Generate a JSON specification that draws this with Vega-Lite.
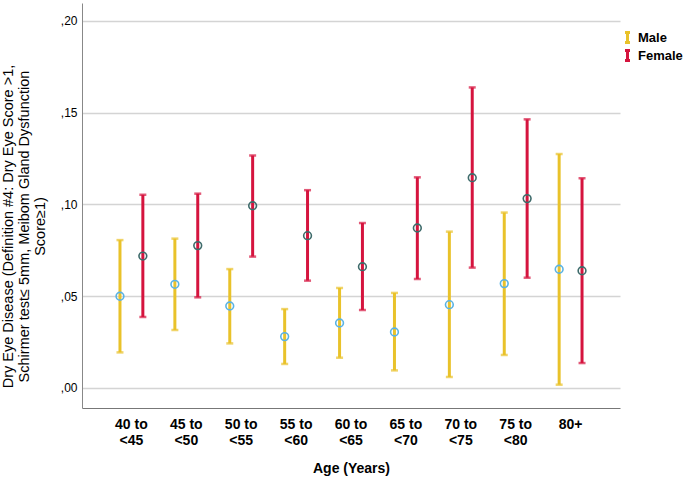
{
  "$schema": "https://vega.github.io/schema/vega-lite/v6.json",
  "autosize": {"type": "none"},
  "padding": {"left": 82, "top": 3, "right": 65, "bottom": 74},
  "width": 538,
  "height": 405,
  "background": "white",
  "config": {
    "font": "Liberation Sans",
    "view": {"stroke": null}
  },
  "data": {
    "values": [
      {"age": "40 to <45", "sex": "Male", "mean": 0.0500, "lo": 0.0194, "hi": 0.0806},
      {"age": "40 to <45", "sex": "Female", "mean": 0.0719, "lo": 0.0387, "hi": 0.1053},
      {"age": "45 to <50", "sex": "Male", "mean": 0.0565, "lo": 0.0316, "hi": 0.0814},
      {"age": "45 to <50", "sex": "Female", "mean": 0.0776, "lo": 0.0494, "hi": 0.1059},
      {"age": "50 to <55", "sex": "Male", "mean": 0.0447, "lo": 0.0243, "hi": 0.0648},
      {"age": "50 to <55", "sex": "Female", "mean": 0.0993, "lo": 0.0716, "hi": 0.1267},
      {"age": "55 to <60", "sex": "Male", "mean": 0.0280, "lo": 0.0131, "hi": 0.0430},
      {"age": "55 to <60", "sex": "Female", "mean": 0.0830, "lo": 0.0585, "hi": 0.1078},
      {"age": "60 to <65", "sex": "Male", "mean": 0.0354, "lo": 0.0165, "hi": 0.0545},
      {"age": "60 to <65", "sex": "Female", "mean": 0.0661, "lo": 0.0425, "hi": 0.0899},
      {"age": "65 to <70", "sex": "Male", "mean": 0.0305, "lo": 0.0096, "hi": 0.0518},
      {"age": "65 to <70", "sex": "Female", "mean": 0.0872, "lo": 0.0594, "hi": 0.1148},
      {"age": "70 to <75", "sex": "Male", "mean": 0.0454, "lo": 0.0060, "hi": 0.0852},
      {"age": "70 to <75", "sex": "Female", "mean": 0.1146, "lo": 0.0656, "hi": 0.1638},
      {"age": "75 to <80", "sex": "Male", "mean": 0.0569, "lo": 0.0180, "hi": 0.0956},
      {"age": "75 to <80", "sex": "Female", "mean": 0.1032, "lo": 0.0601, "hi": 0.1464},
      {"age": "80+", "sex": "Male", "mean": 0.0647, "lo": 0.0018, "hi": 0.1275},
      {"age": "80+", "sex": "Female", "mean": 0.0639, "lo": 0.0136, "hi": 0.1143}
    ]
  },
  "encoding": {
    "x": {
      "field": "age",
      "type": "nominal",
      "sort": null,
      "scale": {"paddingInner": 0, "paddingOuter": 0.4},
      "axis": {
        "title": "Age (Years)",
        "titleFont": "Liberation Sans",
        "titleFontSize": 14,
        "titleFontWeight": "bold",
        "titleColor": "#000",
        "titlePadding": 14,
        "labelAngle": 0,
        "labelFont": "Liberation Sans",
        "labelFontSize": 14,
        "labelFontWeight": "bold",
        "labelColor": "#000",
        "labelLineHeight": 16,
        "labelPadding": 9,
        "labelExpr": "split(replace(datum.label, ' <', '\\n<'), '\\n')",
        "ticks": false,
        "domainColor": "#777",
        "domainWidth": 1,
        "grid": false
      }
    },
    "xOffset": {
      "field": "sex",
      "type": "nominal",
      "sort": ["Male", "Female"],
      "scale": {"paddingInner": 0, "paddingOuter": 0.2}
    }
  },
  "layer": [
    {
      "mark": {"type": "rule", "strokeWidth": 3},
      "encoding": {
        "y": {
          "field": "lo",
          "type": "quantitative",
          "scale": {"domain": [-0.0109, 0.2098], "nice": false, "zero": false},
          "axis": {
            "title": ["Dry Eye Disease (Definition #4: Dry Eye Score >1,", "Schirmer test≤ 5mm, Meibom Gland Dysfunction", "Score≥1)"],
            "titleFont": "Liberation Sans",
            "titleFontSize": 14.5,
            "titleFontWeight": "normal",
            "titleColor": "#000",
            "titleLineHeight": 16,
            "titleAngle": -90,
            "titleBaseline": "top",
            "titleAlign": "center",
            "titleX": -81,
            "titleY": 223,
            "values": [0, 0.05, 0.1, 0.15, 0.2],
            "labelExpr": "replace(format(datum.value, '.2f'), '0.', ',')",
            "labelFont": "Liberation Sans",
            "labelFontSize": 12,
            "labelColor": "#000",
            "labelPadding": 5,
            "ticks": false,
            "domainColor": "#888",
            "domainWidth": 1,
            "gridColor": "#d4d4d4",
            "gridWidth": 1.3
          }
        },
        "y2": {"field": "hi"},
        "color": {
          "field": "sex",
          "type": "nominal",
          "sort": ["Male", "Female"],
          "scale": {"domain": ["Male", "Female"], "range": ["#E9C22A", "#D5143E"]},
          "legend": {
            "title": null,
            "orient": "none",
            "legendX": 539,
            "legendY": 28,
            "symbolType": "M0,-1V1M-0.5,-1H0.5M-0.5,1H0.5",
            "symbolStrokeWidth": 3,
            "symbolSize": 100,
            "symbolFillColor": "transparent",
            "labelFont": "Liberation Sans",
            "labelFontSize": 13,
            "labelFontWeight": "bold",
            "labelColor": "#000",
            "rowPadding": -5,
            "labelOffset": 4
          }
        }
      }
    },
    {
      "mark": {"type": "tick", "thickness": 2.5, "size": 7},
      "encoding": {
        "y": {"field": "lo", "type": "quantitative"},
        "color": {"field": "sex", "type": "nominal", "legend": null}
      }
    },
    {
      "mark": {"type": "tick", "thickness": 2.5, "size": 7},
      "encoding": {
        "y": {"field": "hi", "type": "quantitative"},
        "color": {"field": "sex", "type": "nominal", "legend": null}
      }
    },
    {
      "mark": {"type": "point", "filled": false, "size": 60, "strokeWidth": 1.6, "opacity": 1},
      "encoding": {
        "y": {"field": "mean", "type": "quantitative"},
        "stroke": {
          "condition": {"test": "datum.sex === 'Male'", "value": "#5AB3E4"},
          "value": "#3E6B6B"
        }
      }
    }
  ]
}
